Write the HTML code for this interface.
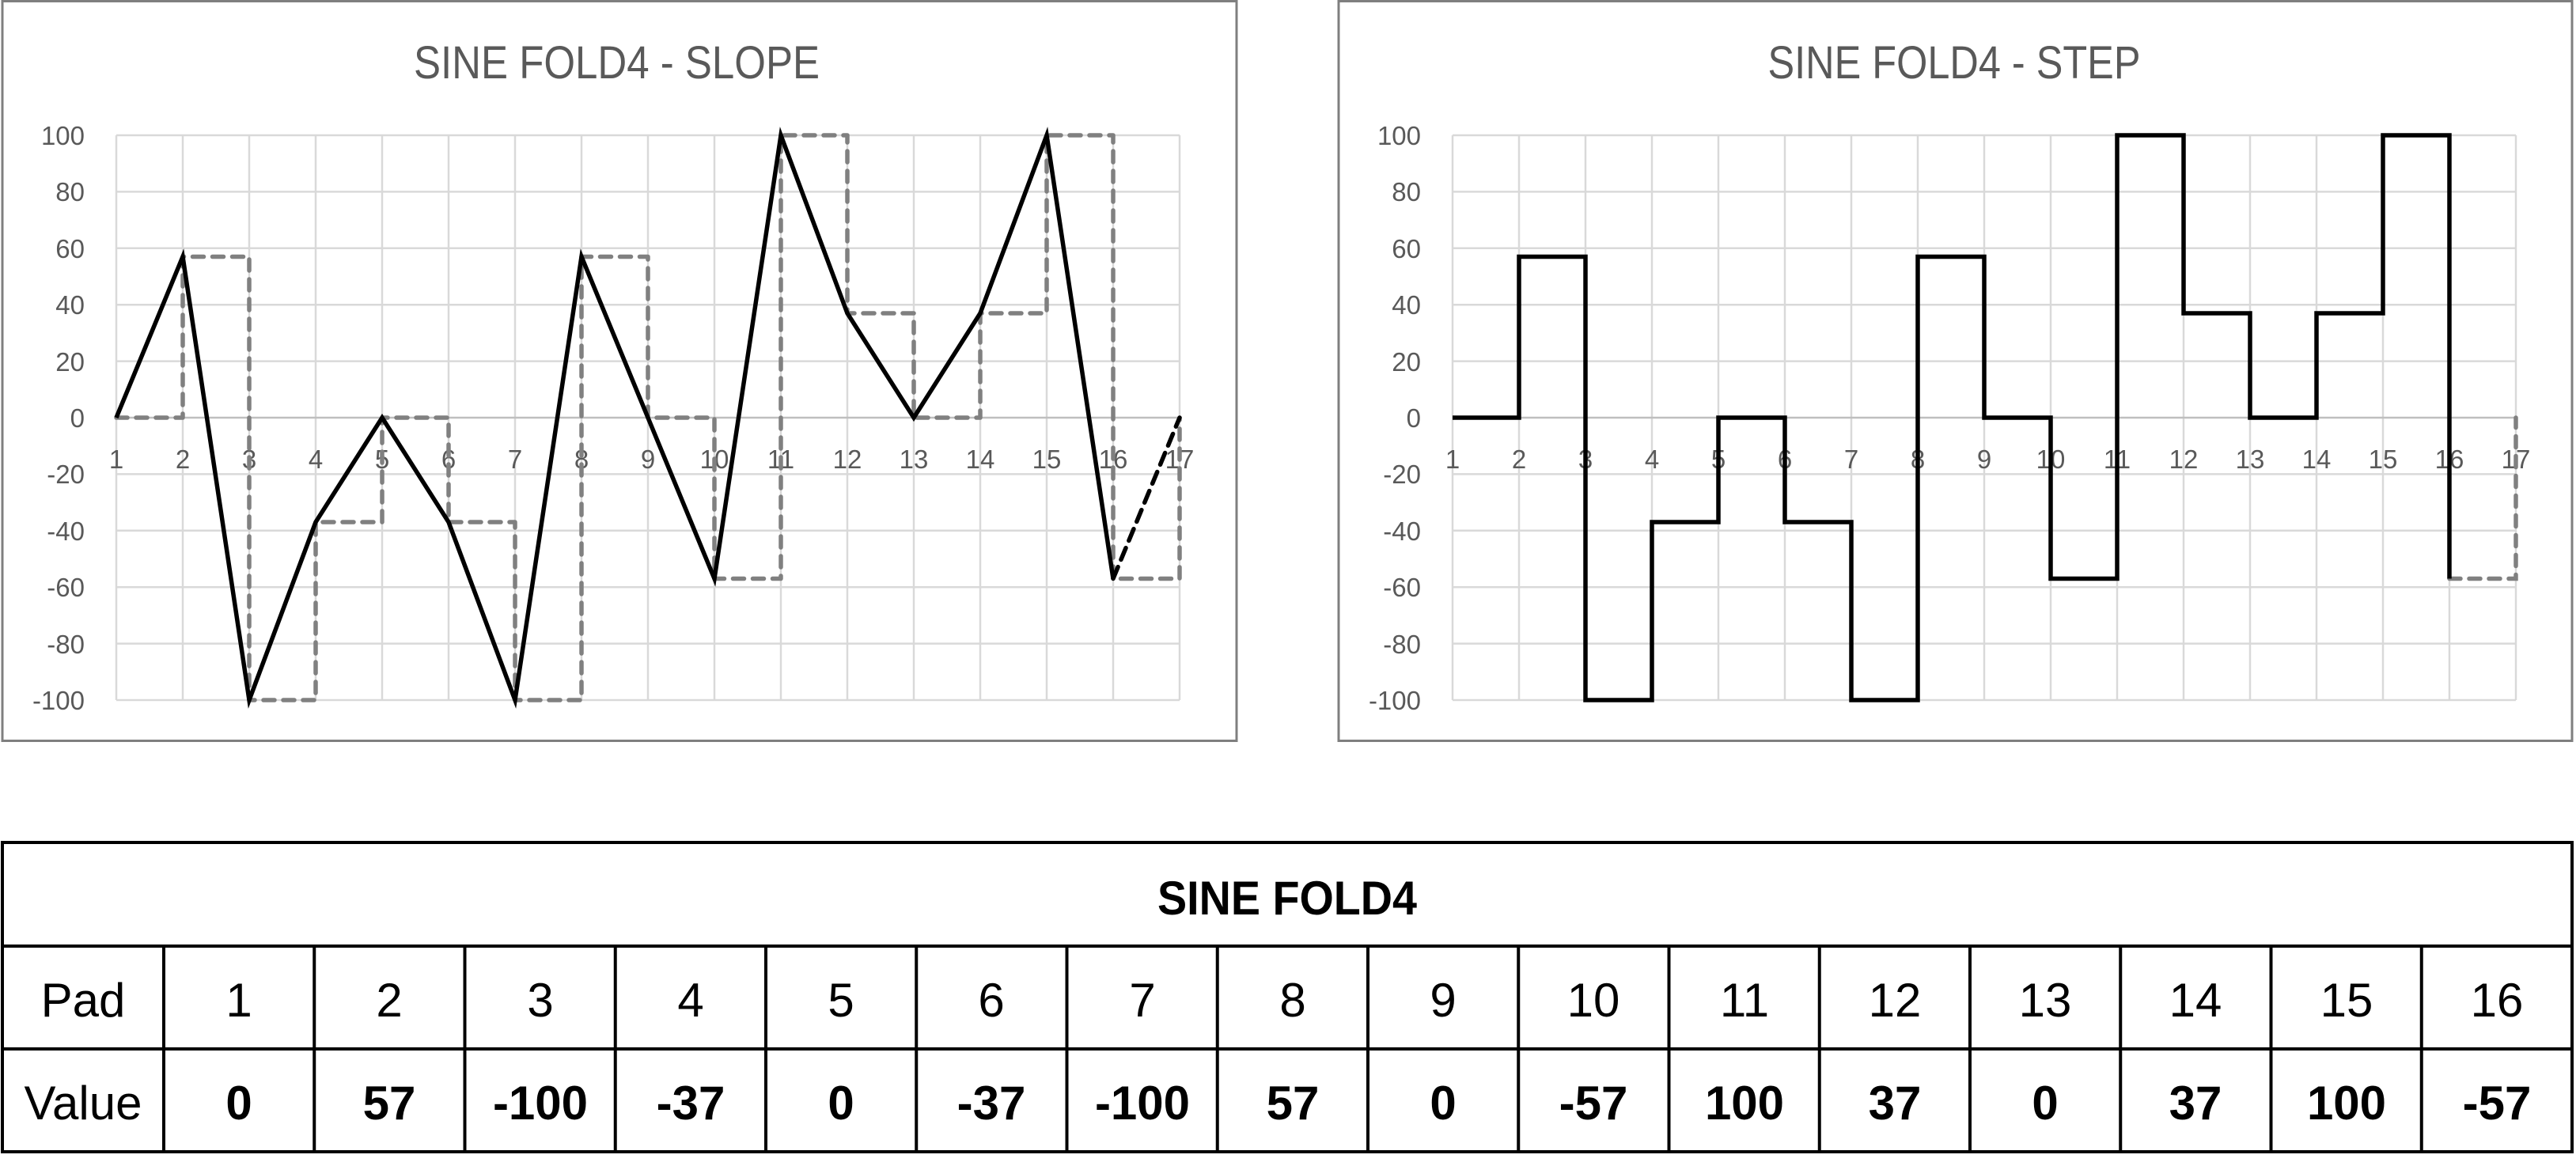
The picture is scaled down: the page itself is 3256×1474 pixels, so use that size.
<!DOCTYPE html>
<html><head><meta charset="utf-8"><style>
html,body{margin:0;padding:0;background:#fff;}
svg{display:block;}
text{font-family:"Liberation Sans",sans-serif;}
</style></head><body>
<svg width="3256" height="1474" viewBox="0 0 3256 1474" xmlns="http://www.w3.org/2000/svg">
<defs>
<g id="grid">
  <g stroke="#d9d9d9" stroke-width="2.5" fill="none">
    <path d="M147,171V885M231,171V885M315,171V885M399,171V885M483,171V885M567,171V885M651,171V885M735,171V885M819,171V885M903,171V885M987,171V885M1071,171V885M1155,171V885M1239,171V885M1323,171V885M1407,171V885M1491,171V885"/>
    <path d="M147,171H1491M147,242.4H1491M147,313.8H1491M147,385.2H1491M147,456.6H1491M147,599.4H1491M147,670.8H1491M147,742.2H1491M147,813.6H1491M147,885H1491"/>
  </g>
  <path d="M147,528H1491" stroke="#bfbfbf" stroke-width="2.5"/>
  <g fill="#595959" font-size="33" text-anchor="end">
    <text x="107" y="183">100</text><text x="107" y="254">80</text><text x="107" y="326">60</text>
    <text x="107" y="397">40</text><text x="107" y="469">20</text><text x="107" y="540">0</text>
    <text x="107" y="611">-20</text><text x="107" y="683">-40</text><text x="107" y="754">-60</text>
    <text x="107" y="826">-80</text><text x="107" y="897">-100</text>
  </g>
  <g fill="#595959" font-size="33" text-anchor="middle">
    <text x="147" y="592">1</text><text x="231" y="592">2</text><text x="315" y="592">3</text><text x="399" y="592">4</text>
    <text x="483" y="592">5</text><text x="567" y="592">6</text><text x="651" y="592">7</text><text x="735" y="592">8</text>
    <text x="819" y="592">9</text><text x="903" y="592">10</text><text x="987" y="592">11</text><text x="1071" y="592">12</text>
    <text x="1155" y="592">13</text><text x="1239" y="592">14</text><text x="1323" y="592">15</text><text x="1407" y="592">16</text>
    <text x="1491" y="592">17</text>
  </g>
</g>
</defs>
<rect x="0" y="0" width="3256" height="1474" fill="#fff"/>
<!-- Chart 1 -->
<rect x="3" y="1.5" width="1560" height="935" fill="#fff" stroke="#7f7f7f" stroke-width="3"/>
<text x="779.5" y="99" font-size="58" fill="#595959" text-anchor="middle" textLength="513" lengthAdjust="spacingAndGlyphs">SINE FOLD4 - SLOPE</text>
<use href="#grid"/>
<polyline fill="none" stroke="#808080" stroke-width="5.5" stroke-dasharray="14 11" stroke-linecap="round" stroke-linejoin="round"
 points="147,528 231,528 231,324.5 315,324.5 315,885 399,885 399,660 483,660 483,528 567,528 567,660 651,660 651,885 735,885 735,324.5 819,324.5 819,528 903,528 903,731.5 987,731.5 987,171 1071,171 1071,396 1155,396 1155,528 1239,528 1239,396 1323,396 1323,171 1407,171 1407,731.5 1491,731.5 1491,528"/>
<polyline fill="none" stroke="#000" stroke-width="5.5" stroke-linejoin="miter"
 points="147,528 231,324.5 315,885 399,660 483,528 567,660 651,885 735,324.5 819,528 903,731.5 987,171 1071,396 1155,528 1239,396 1323,171 1407,731.5"/>
<line x1="1407" y1="731.5" x2="1491" y2="528" stroke="#000" stroke-width="5.5" stroke-dasharray="16 10" stroke-linecap="round"/>
<!-- Chart 2 -->
<rect x="1692" y="1.5" width="1559" height="935" fill="#fff" stroke="#7f7f7f" stroke-width="3"/>
<text x="2470" y="99" font-size="58" fill="#595959" text-anchor="middle" textLength="471" lengthAdjust="spacingAndGlyphs">SINE FOLD4 - STEP</text>
<g transform="translate(1689,0)">
<use href="#grid"/>
<polyline fill="none" stroke="#808080" stroke-width="5.5" stroke-dasharray="14 11" stroke-linecap="round" points="1407,731.5 1491,731.5 1491,528"/>
<polyline fill="none" stroke="#000" stroke-width="5.5" stroke-linejoin="miter"
 points="147,528 231,528 231,324.5 315,324.5 315,885 399,885 399,660 483,660 483,528 567,528 567,660 651,660 651,885 735,885 735,324.5 819,324.5 819,528 903,528 903,731.5 987,731.5 987,171 1071,171 1071,396 1155,396 1155,528 1239,528 1239,396 1323,396 1323,171 1407,171 1407,731.5"/>
</g>
<!-- Table -->
<g stroke="#000" stroke-width="4" fill="none">
  <rect x="3" y="1065" width="3248" height="391"/>
  <path d="M3,1196H3251M3,1326H3251"/>
  <path d="M207,1196V1456M397.25,1196V1456M587.5,1196V1456M777.75,1196V1456M968,1196V1456M1158.25,1196V1456M1348.5,1196V1456M1538.75,1196V1456M1729,1196V1456M1919.25,1196V1456M2109.5,1196V1456M2299.75,1196V1456M2490,1196V1456M2680.25,1196V1456M2870.5,1196V1456M3060.75,1196V1456"/>
</g>
<text x="1627" y="1156" font-size="60" font-weight="bold" text-anchor="middle" textLength="328" lengthAdjust="spacingAndGlyphs">SINE FOLD4</text>
<g font-size="60" text-anchor="middle">
  <text x="105" y="1285">Pad</text>
  <text x="302" y="1285">1</text><text x="492" y="1285">2</text><text x="683" y="1285">3</text><text x="873" y="1285">4</text>
  <text x="1063" y="1285">5</text><text x="1253" y="1285">6</text><text x="1444" y="1285">7</text><text x="1634" y="1285">8</text>
  <text x="1824" y="1285">9</text><text x="2014" y="1285">10</text><text x="2205" y="1285">11</text><text x="2395" y="1285">12</text>
  <text x="2585" y="1285">13</text><text x="2775" y="1285">14</text><text x="2966" y="1285">15</text><text x="3156" y="1285">16</text>
  <text x="105" y="1415">Value</text>
</g>
<g font-size="60" font-weight="bold" text-anchor="middle">
  <text x="302" y="1415">0</text><text x="492" y="1415">57</text><text x="683" y="1415">-100</text><text x="873" y="1415">-37</text>
  <text x="1063" y="1415">0</text><text x="1253" y="1415">-37</text><text x="1444" y="1415">-100</text><text x="1634" y="1415">57</text>
  <text x="1824" y="1415">0</text><text x="2014" y="1415">-57</text><text x="2205" y="1415">100</text><text x="2395" y="1415">37</text>
  <text x="2585" y="1415">0</text><text x="2775" y="1415">37</text><text x="2966" y="1415">100</text><text x="3156" y="1415">-57</text>
</g>
</svg>
</body></html>
